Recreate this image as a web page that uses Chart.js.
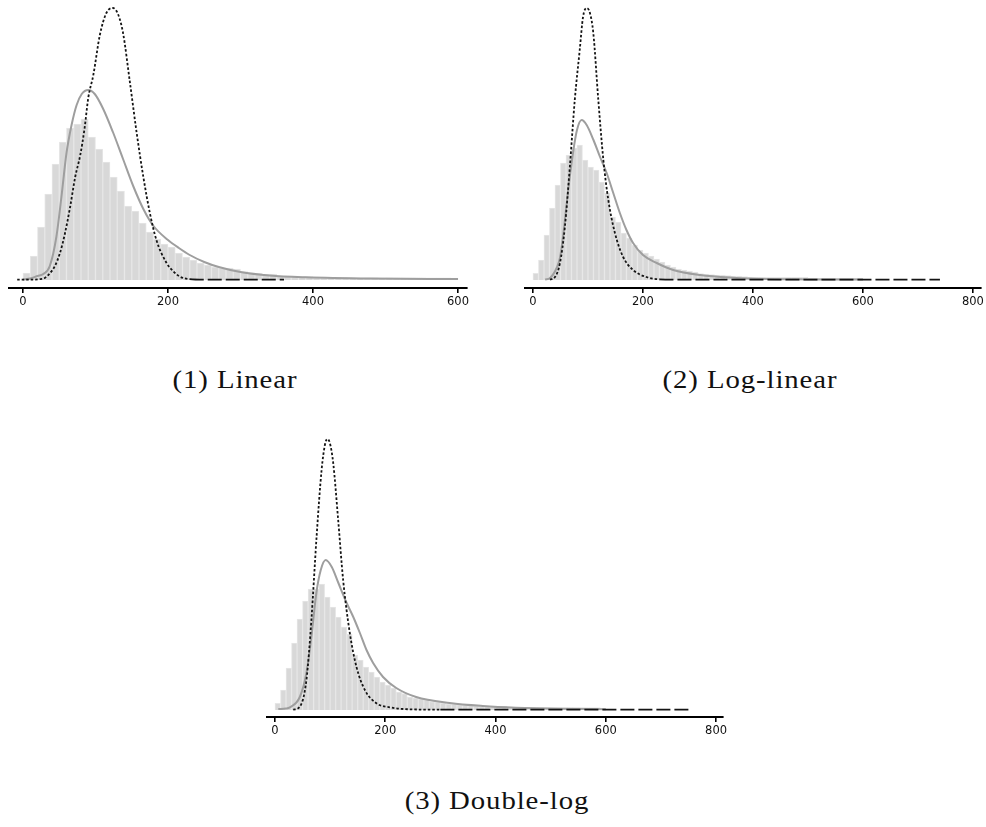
<!DOCTYPE html>
<html><head><meta charset="utf-8">
<script src="https://cdn.jsdelivr.net/npm/chart.js@4.4.0/dist/chart.umd.min.js"></script>
<style>
html,body{margin:0;padding:0;background:#fff;width:986px;height:827px;overflow:hidden;position:relative}
canvas{position:absolute;display:block}
.cap{position:absolute;font-family:"Liberation Serif","Times New Roman",serif;font-size:25px;line-height:30px;letter-spacing:0.8px;color:#111;white-space:nowrap;transform:translateX(-50%) scaleX(1.15)}
</style></head><body>
<canvas id="c1" width="480" height="312" style="left:0px;top:0px"></canvas>
<canvas id="c2" width="486" height="312" style="left:500px;top:0px"></canvas>
<canvas id="c3" width="490" height="321" style="left:250px;top:420px"></canvas>
<div class="cap" id="t1" style="left:235px;top:365px"></div>
<div class="cap" id="t2" style="left:750px;top:365px"></div>
<div class="cap" id="t3" style="left:497px;top:786px"></div>
<script>
// ---------- data (relative density heights) ----------
const captions = ["(1) Linear", "(2) Log-linear", "(3) Double-log"];
const binWidth = 10;
const ticksLinear = [0, 200, 400, 600];
const ticksLog = [0, 200, 400, 600, 800];

// (1) Linear
const linearBars = [7,24,53,86,116,138,152,156,161,143,131,118,103,89,74,69,57,48,41,36,
  33,27,23,20,17,15,13,12,12,11,8.5,7,7,6,6,4,4,4,3.5,3.5,
  2.2,2.2,2.2,2.2,2.2,2.2,2.2,2.2,2.2,1.5,2.2,2.2,2.2,2.2,2.2,2.2,2.2,2.2,2.2,2];
const linearFitX = [0,10,20,28,37,46,53,60,67,74,81,90,99,110,124,138,152,166,180,200,215,230,250,270,300,340,390,480,600];
const linearFitY = [0.5,1.5,4,6,14,43,83,127,155,175,186,190,186,172,148,121,94,71,54,40,32,25,18,13,8,4.5,2.7,1.4,1];
const linearAltX = [-8,10,23,30,37,44,51,58,65,72,79,85,90,97,106,115,124,131,138,147.6,156.8,166,175,184,198,207,216,230,250,360];
const linearAltY = [0.4,0.4,0.8,2,6.7,14,27,47,73,103,125,152,182,205,245,267,272,266,247,197,147,103,67,40,17,9,3.5,0.8,0.3,0.3];

// (2) Log-linear
const logLinBars = [6.7,20,45,72,95,117,125,132,135,120,113,110,98,87,63,58,47,42,35,30,
  27,24,21,18,15,13,11,10,9,8,6.5,6,5.5,5,5,4.5,4,4,3.5,3,
  2.7,2.7,2.7,2.7,2.7,2.7,2.7,2.7,2.7,2.7,2,2,2,2,2,2,2,2,2,2];
const logLinFitX = [22,31,43,49,55,64,73,80,88.5,97.6,110,122,134,146,158,170,182,200,225,255,304,364,425,500,600];
const logLinFitY = [0.5,2,12,22,45,90,128,150,160,155,140,123,107,87,67,50,37,25,17,10,5,2.3,1,0.6,0.4];
const logLinAltX = [31,40,49,58,67,76,85,91,97.6,103.6,109.7,118.8,128,137,149,164,182,206,230,260,740];
const logLinAltY = [0.3,3,16.7,53,113,180,230,263,272,267,247,180,120,80,47,23,10,3,0.7,0.3,0.3];

// (3) Double-log
const dblLogBars = [6.7,20,42,67,91,109,121,121,126,113,103,93,83,76,55,50,43,38,33,28,
  25,22,18,16.5,13,12,11,10,8.5,8,7,6,5.7,5.5,5,4.5,4,4,4,4,
  4,4,2.3,2.3,2.3,2.3,2.3,2.3,2.3,2.3,2.3,2.3,2.3,2.3,2.3,2.3,2.3,2.3,2.3,1.5];
const dblLogFitX = [6,20,27,45,57,66,75,83,92,103,115,130,142,154,166,178,196,220,256,317,377,437,520,600];
const dblLogFitY = [1,1.5,2.7,13,37,73,117,140,150,143,127,107,93,77,60,47,33,22,13,7,4,2.3,1.2,0.8];
const dblLogAltX = [33,45,57,66,75.4,84.5,90.5,94.7,99.5,105.6,114.6,123.6,135.7,147.8,163,184,208,244,300,754];
const dblLogAltY = [0.3,3.3,30,90,173,240,265,271,267,247,190,130,77,43,20,6.7,2.7,0.7,0.3,0.3];

// ---------- chart building ----------
function pts(xs, ys) { return xs.map((x, i) => ({x: x, y: ys[i]})); }
function binPts(vals) { return vals.map((v, i) => ({x: i * binWidth + binWidth / 2, y: v})); }

function makeChart(id, cfg) {
  const ctx = document.getElementById(id);
  new Chart(ctx, {
    type: 'bar',
    data: {
      datasets: [
        {
          type: 'line', data: pts(cfg.altX, cfg.altY), order: 1,
          borderColor: '#141414', borderWidth: 1.8, borderDash: [2.5, 2],
          pointRadius: 0, cubicInterpolationMode: 'monotone', fill: false,
          segment: { borderDash: c => (c.p0.parsed.x >= cfg.tailFrom ? [14, 4] : undefined) }
        },
        {
          type: 'line', data: pts(cfg.fitX, cfg.fitY), order: 2,
          borderColor: '#9e9e9e', borderWidth: 2, pointRadius: 0,
          cubicInterpolationMode: 'monotone', fill: false
        },
        {
          type: 'bar', data: binPts(cfg.bars), order: 3,
          backgroundColor: '#d8d8d8', borderColor: '#e6e6e6', borderWidth: 1,
          borderSkipped: 'bottom', barPercentage: 1, categoryPercentage: 1, grouped: false
        }
      ]
    },
    options: {
      responsive: false, animation: false, devicePixelRatio: 1, events: [],
      layout: { padding: cfg.pad },
      plugins: { legend: { display: false }, tooltip: { enabled: false }, title: { display: false } },
      scales: {
        x: {
          type: 'linear', min: cfg.xmin, max: cfg.xmax, offset: false,
          afterBuildTicks: s => { s.ticks = cfg.ticks.map(v => ({value: v})); },
          afterFit: s => { s.height = 24; },
          border: { display: true, color: '#000', width: 2 },
          grid: { offset: false, drawOnChartArea: false, drawTicks: true, tickLength: 5, color: '#000', lineWidth: 1.6 },
          ticks: { font: { family: 'DejaVu Sans', size: 11.5 }, color: '#111', padding: 2,
                   maxRotation: 0, autoSkip: false, callback: v => String(v) }
        },
        y: { display: false, min: cfg.ymin, max: cfg.ymax }
      }
    }
  });
}

makeChart('c1', { bars: linearBars, fitX: linearFitX, fitY: linearFitY, altX: linearAltX, altY: linearAltY,
  xmin: -19.3, xmax: 612.4, ymin: -8, ymax: 280, ticks: ticksLinear, tailFrom: 225,
  pad: { left: 9, right: 13, top: 0, bottom: 0 } });
makeChart('c2', { bars: logLinBars, fitX: logLinFitX, fitY: logLinFitY, altX: logLinAltX, altY: logLinAltY,
  xmin: -14.5, xmax: 814.5, ymin: -8, ymax: 280, ticks: ticksLog, tailFrom: 225,
  pad: { left: 25, right: 5, top: 0, bottom: 0 } });
makeChart('c3', { bars: dblLogBars, fitX: dblLogFitX, fitY: dblLogFitY, altX: dblLogAltX, altY: dblLogAltY,
  xmin: -14.5, xmax: 812.6, ymin: -7, ymax: 280, ticks: ticksLog, tailFrom: 290,
  pad: { left: 17, right: 17, top: 10, bottom: 0 } });

document.getElementById('t1').textContent = captions[0];
document.getElementById('t2').textContent = captions[1];
document.getElementById('t3').textContent = captions[2];
</script>
</body></html>
